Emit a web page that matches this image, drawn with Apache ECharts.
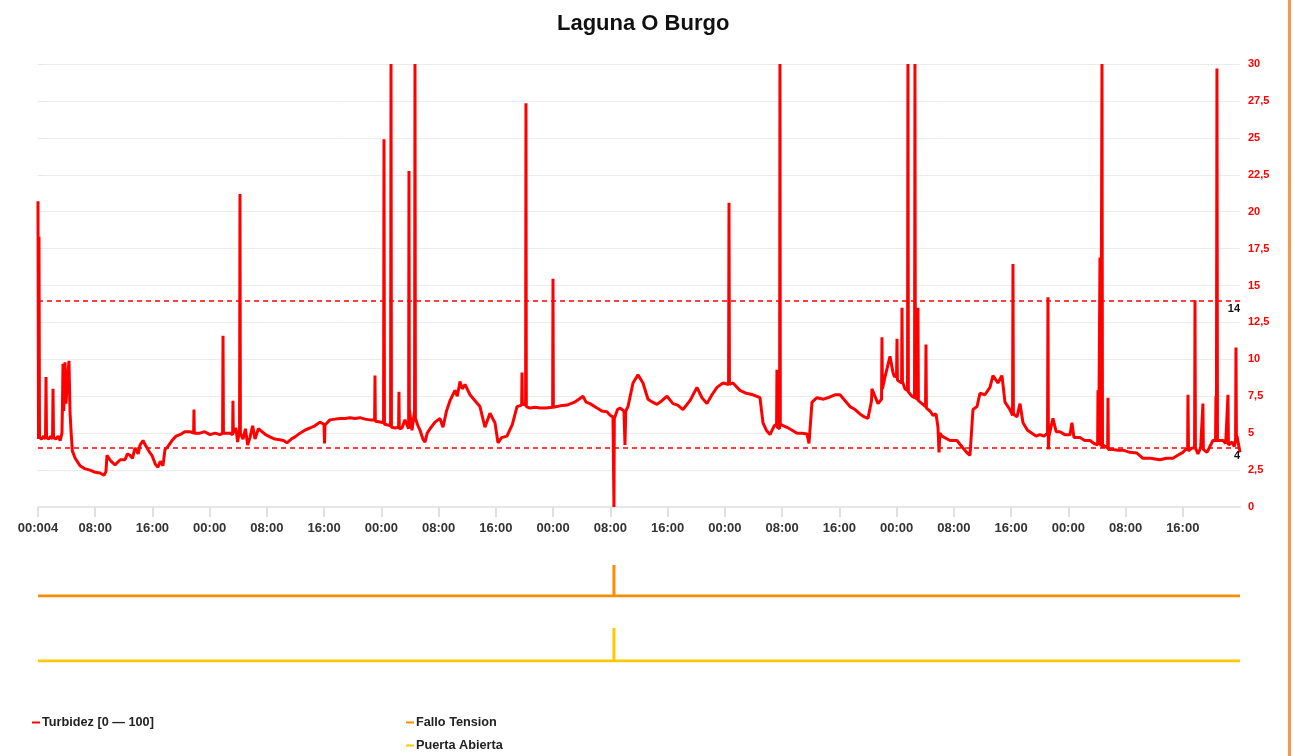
<!DOCTYPE html>
<html>
<head>
<meta charset="utf-8">
<script src="https://cdn.jsdelivr.net/npm/echarts@6/dist/echarts.min.js"></script>
<style>html,body{margin:0;padding:0;background:#fff;}#c{width:1295px;height:756px;}</style>
</head>
<body>
<div id="c"></div>
<script>
// ---- data (x = hours since start, y = value) ----
const title = 'Laguna O Burgo';
const seriesNames = ['Turbidez [0 \u2014 100]', 'Fallo Tension', 'Puerta Abierta'];
const hourTickLabels = ['00:004', '08:00', '16:00', '00:00', '08:00', '16:00', '00:00', '08:00', '16:00', '00:00', '08:00', '16:00', '00:00', '08:00', '16:00', '00:00', '08:00', '16:00', '00:00', '08:00', '16:00'];
const yTickLabels = ['0', '2,5', '5', '7,5', '10', '12,5', '15', '17,5', '20', '22,5', '25', '27,5', '30'];
const thresholds = [14, 4];
const turbidez = [
[0,20.7],[0.07,4.6],[0.14,18.3],[0.21,4.7],[0.5,4.6],[0.8,4.8],[1.05,4.6],[1.12,8.8],[1.19,4.7],[1.5,4.6],[1.8,4.8],[2.03,4.6],[2.10,8.0],[2.17,4.7],[2.5,4.6],[2.8,4.8],[3.1,4.5],[3.35,5.0],[3.42,6.9],[3.49,9.7],[3.6,6.5],[3.77,9.8],[3.91,7.0],[4.1,8.5],[4.33,9.9],[4.47,6.5],[4.61,5.2],[4.8,3.8],[5.2,3.3],[5.87,2.8],[6.5,2.6],[7.27,2.5],[8.0,2.35],[8.67,2.3],[9.22,2.15],[9.5,2.4],[9.64,3.5],[10.2,3.1],[10.76,2.85],[11.5,3.2],[12.16,3.2],[12.5,3.6],[12.86,3.5],[13.2,3.3],[13.56,4.0],[14.0,3.6],[14.26,4.2],[14.68,4.5],[15.0,4.2],[15.23,4.2],[15.6,3.7],[15.93,3.5],[16.4,2.9],[16.77,2.7],[17.1,3.1],[17.47,2.8],[17.75,3.9],[18.17,4.1],[18.73,4.5],[19.3,4.8],[19.85,4.9],[20.5,5.1],[21.24,5.1],[21.75,5.0],[21.80,6.6],[21.85,5.0],[22.64,5.0],[23.3,5.1],[24.04,4.9],[24.74,5.0],[25.44,4.9],[25.8,5.0],[25.86,11.6],[25.92,5.0],[26.14,5.1],[26.83,5.0],[27.2,4.9],[27.25,7.2],[27.3,5.0],[27.67,5.35],[27.9,4.4],[28.17,5.2],[28.23,21.2],[28.29,5.0],[28.65,4.6],[29.0,5.3],[29.3,4.2],[29.63,4.7],[30.0,5.5],[30.33,4.6],[30.8,5.3],[31.31,5.1],[31.8,4.9],[32.42,4.75],[33.1,4.6],[33.82,4.55],[34.3,4.5],[34.80,4.35],[35.4,4.6],[35.92,4.75],[36.62,5.0],[37.3,5.2],[38.02,5.35],[38.7,5.5],[39.41,5.75],[39.97,5.6],[40.05,4.3],[40.11,5.55],[40.81,5.9],[41.5,5.95],[42.21,6.0],[42.9,6.0],[43.61,6.05],[44.3,6.0],[45.0,6.05],[45.7,5.95],[46.4,5.9],[47.05,5.9],[47.10,8.9],[47.15,5.8],[47.80,5.75],[48.3,5.7],[48.36,24.9],[48.42,5.6],[48.92,5.55],[49.28,5.5],[49.34,30],[49.40,5.4],[49.90,5.35],[50.4,5.4],[50.45,7.8],[50.5,5.3],[50.87,5.35],[51.29,5.9],[51.8,5.3],[51.85,22.75],[51.9,6.6],[52.27,5.2],[52.63,6.5],[52.69,30],[52.75,6.0],[53.11,5.5],[53.39,5.2],[53.8,4.6],[54.09,4.4],[54.4,5.0],[54.79,5.3],[55.49,5.75],[56.18,6.0],[56.60,5.4],[57.1,6.5],[57.58,7.2],[58.28,7.9],[58.6,7.5],[58.98,8.5],[59.3,8.0],[59.68,8.3],[60.38,7.6],[61.08,7.2],[61.77,6.8],[62.47,5.4],[63.17,6.35],[63.87,5.7],[64.29,4.35],[64.8,4.7],[65.55,4.8],[66.3,5.6],[66.95,6.8],[67.6,6.9],[67.65,9.1],[67.7,7.0],[68.15,6.9],[68.20,27.35],[68.25,6.8],[68.76,6.7],[69.5,6.75],[70.16,6.7],[71.0,6.7],[71.93,6.75],[71.98,15.45],[72.03,6.75],[73.0,6.85],[73.93,6.9],[75.0,7.1],[76.17,7.5],[76.6,7.1],[77.15,7.0],[78.13,6.7],[78.8,6.5],[79.52,6.45],[80.0,6.2],[80.36,6.1],[80.46,6.0],[80.50,0],[80.55,6.0],[81.0,6.6],[81.34,6.7],[81.9,6.5],[82.04,4.2],[82.15,6.5],[82.46,6.8],[83.16,8.4],[83.86,8.95],[84.56,8.4],[85.26,7.3],[85.9,7.1],[86.51,6.95],[87.2,7.2],[87.91,7.5],[88.75,7.0],[89.4,6.9],[90.15,6.6],[91.12,7.2],[92.10,8.1],[92.8,7.4],[93.50,7.0],[94.2,7.6],[94.90,8.1],[95.74,8.4],[96.52,8.3],[96.58,20.6],[96.64,8.3],[97.13,8.4],[98.11,7.9],[99.0,7.7],[99.93,7.6],[100.91,7.4],[101.33,5.7],[101.8,5.2],[102.31,4.9],[102.9,5.5],[103.23,5.6],[103.28,9.3],[103.33,5.4],[103.65,5.3],[103.70,30],[103.75,5.6],[104.68,5.4],[105.4,5.2],[106.08,5.0],[106.8,5.0],[107.48,4.95],[107.76,4.3],[108.18,7.1],[108.87,7.4],[109.8,7.3],[110.69,7.45],[111.4,7.6],[112.09,7.6],[112.8,7.2],[113.49,6.8],[114.2,6.6],[114.88,6.3],[115.5,6.1],[116.00,6.0],[116.5,7.2],[116.56,8.0],[116.9,7.6],[117.40,7.0],[117.9,7.3],[117.96,11.5],[118.02,8.0],[118.38,8.8],[119.08,10.2],[119.5,9.1],[119.72,8.8],[119.78,8.8],[120.00,9.0],[120.06,11.4],[120.12,8.6],[120.7,8.4],[120.76,13.5],[120.82,8.5],[121.17,8.0],[121.53,7.9],[121.59,30],[121.65,7.8],[122.15,7.5],[122.51,7.4],[122.57,30],[122.63,7.4],[122.93,7.3],[122.99,13.5],[123.05,7.2],[123.55,7.0],[124.05,6.8],[124.11,11.0],[124.17,6.7],[124.67,6.5],[125.09,6.2],[125.51,6.3],[125.79,5.4],[125.93,3.7],[126.05,5.0],[126.35,4.8],[127.46,4.5],[128.44,4.5],[129.28,4.0],[129.8,3.7],[130.26,3.5],[130.5,3.6],[130.68,6.6],[131.24,6.8],[131.66,7.7],[132.35,7.6],[133.05,8.1],[133.47,8.9],[134.17,8.4],[134.73,8.9],[135.15,7.1],[135.85,6.6],[136.21,6.2],[136.27,16.45],[136.33,6.3],[136.83,6.1],[137.25,7.0],[137.67,5.7],[138.3,5.2],[138.92,5.0],[139.5,4.8],[140.04,4.9],[140.6,4.8],[141.1,5.0],[141.16,14.2],[141.22,3.9],[141.30,4.8],[141.86,6.0],[142.3,5.1],[142.84,5.1],[143.5,4.9],[144.24,4.9],[144.51,5.7],[144.8,4.7],[145.63,4.7],[146.3,4.5],[147.03,4.5],[147.6,4.3],[148.10,4.2],[148.15,7.9],[148.25,4.2],[148.43,16.9],[148.55,4.1],[148.71,30],[148.78,4.0],[148.85,4.2],[149.50,4.0],[149.55,7.4],[149.6,3.9],[150.24,3.9],[150.9,3.85],[151.64,3.85],[152.6,3.7],[153.60,3.65],[154.44,3.3],[155.5,3.3],[156.81,3.2],[157.7,3.3],[158.63,3.3],[159.3,3.5],[160.03,3.7],[160.4,3.9],[160.68,3.9],[160.73,7.6],[160.8,3.8],[161.01,3.7],[161.3,4.0],[161.65,4.0],[161.71,14.0],[161.77,4.0],[162.12,3.6],[162.5,4.0],[162.76,4.0],[162.82,7.0],[162.88,3.9],[163.38,3.7],[163.8,4.1],[164.22,4.5],[164.58,4.5],[164.64,7.5],[164.7,4.4],[164.78,29.7],[164.85,4.5],[165.62,4.5],[166.0,4.3],[166.26,4.4],[166.32,7.6],[166.38,4.2],[166.88,4.4],[167.2,4.1],[167.38,4.5],[167.44,10.8],[167.5,4.4],[167.58,4.8],[168.0,3.7]
];
const falloTension = [[0,0],[80.5,0],[80.5,1],[80.5,0],[168,0]];
const puertaAbierta = [[0,0],[80.5,0],[80.5,1],[80.5,0],[168,0]];

const FONT = 'Liberation Sans, Arial, sans-serif';
const chart = echarts.init(document.getElementById('c'), null, {renderer: 'canvas'});

const xAxisBase = {type: 'value', min: 0, max: 168, interval: 8};
const legendText = {fontFamily: FONT, fontSize: 12.7, fontWeight: 'bold', color: '#222', padding: [0, 0, 0, -3]};
const option = {
  animation: false,
  backgroundColor: '#fff',
  title: {text: title, left: 552, top: 8, textStyle: {fontFamily: FONT, fontSize: 22, fontWeight: 'bold', color: '#111'}},
  graphic: [{type: 'rect', left: 1288, top: 0, shape: {width: 3, height: 756}, style: {fill: '#f79646'}, silent: true}],
  legend: [
    {data: [seriesNames[0]], left: 27, top: 711, icon: 'rect', itemWidth: 8, itemHeight: 2, itemGap: 4, textStyle: legendText},
    {data: [seriesNames[1]], left: 401, top: 711, icon: 'rect', itemWidth: 8, itemHeight: 2, textStyle: legendText},
    {data: [seriesNames[2]], left: 401, top: 734, icon: 'rect', itemWidth: 8, itemHeight: 2, textStyle: legendText}
  ],
  grid: [
    {left: 38, right: 55, top: 64, height: 443},
    {left: 38, right: 55, top: 565, height: 31},
    {left: 38, right: 55, top: 628, height: 33}
  ],
  xAxis: [
    Object.assign({}, xAxisBase, {gridIndex: 0,
      axisLine: {show: true, lineStyle: {color: '#e6e6e6', width: 2}},
      axisTick: {show: true, length: 10, lineStyle: {color: '#e0e0e0', width: 2}},
      splitLine: {show: false},
      axisLabel: {margin: 15, showMaxLabel: false, fontFamily: FONT, fontSize: 13, fontWeight: 'bold', color: '#333',
        formatter: function (v) { const i = Math.round(v / 8); return hourTickLabels[i] !== undefined ? hourTickLabels[i] : ''; }}}),
    Object.assign({}, xAxisBase, {gridIndex: 1, show: false}),
    Object.assign({}, xAxisBase, {gridIndex: 2, show: false})
  ],
  yAxis: [
    {type: 'value', gridIndex: 0, position: 'right', min: 0, max: 30, interval: 2.5,
     axisLine: {show: false},
     axisTick: {show: true, length: 5, lineStyle: {color: '#e6e6e6'}},
     splitLine: {show: true, lineStyle: {color: '#ebebeb', width: 1}},
     axisLabel: {margin: 8, fontFamily: FONT, fontSize: 11, fontWeight: 'bold', color: '#ff0000',
       formatter: function (v) { const i = Math.round(v / 2.5); return yTickLabels[i] !== undefined ? yTickLabels[i] : ''; }}},
    {type: 'value', gridIndex: 1, min: 0, max: 1, show: false},
    {type: 'value', gridIndex: 2, min: 0, max: 1, show: false}
  ],
  series: [
    {name: seriesNames[0], type: 'line', xAxisIndex: 0, yAxisIndex: 0, data: turbidez, showSymbol: false,
     color: '#ff0000', lineStyle: {width: 3, color: '#ff0000'},
     markLine: {silent: true, symbol: 'none',
       lineStyle: {type: [5, 4], color: '#ff0000', width: 1.6},
       label: {position: 'insideEndBottom', distance: [0, 3], fontFamily: FONT, fontSize: 11, fontWeight: 'bold', color: '#111', formatter: '{c}'},
       data: thresholds.map(function (t) { return {yAxis: t}; })}},
    {name: seriesNames[1], type: 'line', xAxisIndex: 1, yAxisIndex: 1, data: falloTension, showSymbol: false,
     color: '#ff8c00', lineStyle: {width: 3, color: '#ff8c00'}},
    {name: seriesNames[2], type: 'line', xAxisIndex: 2, yAxisIndex: 2, data: puertaAbierta, showSymbol: false,
     color: '#ffc800', lineStyle: {width: 3, color: '#ffc800'}}
  ]
};
chart.setOption(option);
</script>
</body>
</html>
